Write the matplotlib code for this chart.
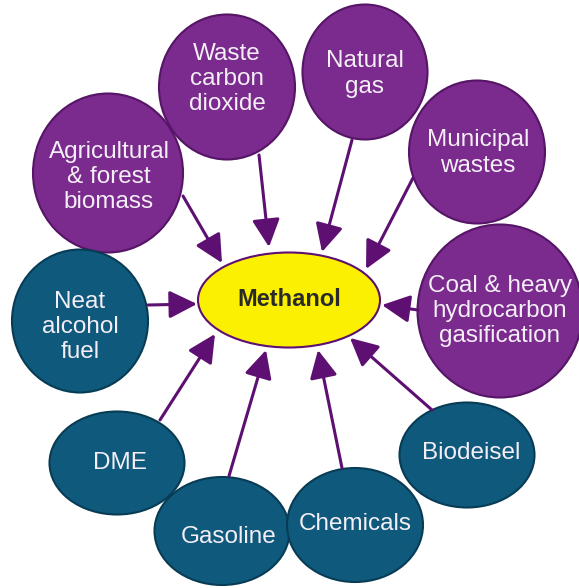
import matplotlib
matplotlib.use("Agg")
import matplotlib.pyplot as plt
from matplotlib.patches import Ellipse, FancyArrowPatch

# ---- data ----
labels = ["Waste\ncarbon\ndioxide", "Natural\ngas", "Agricultural\n& forest\nbiomass",
          "Municipal\nwastes", "Coal & heavy\nhydrocarbon\ngasification",
          "Neat\nalcohol\nfuel", "DME", "Gasoline", "Chemicals", "Biodeisel"]
kinds = ["source", "source", "source", "source", "source",
         "use", "use", "use", "use", "use"]
node_x = [227, 365, 108, 477, 500, 80, 117, 222, 355, 467]
node_y = [87, 72, 173, 152, 311, 321, 463, 531, 525, 455]
node_w = [136, 125, 150, 136, 165, 136, 135, 135, 136, 135]
node_h = [145, 135, 159, 143, 173, 143, 103, 108, 114, 105]
label_x = [227, 365, 109, 478, 500, 80, 120, 229, 355, 471]
label_y = [79, 74, 177, 153, 311, 327, 463, 537, 524, 453]

arrow_x0 = [259, 352, 183, 413, 418, 148, 160, 229, 342, 432]
arrow_y0 = [155, 140, 196, 178, 310, 305, 420, 476, 468, 410]
arrow_x1 = [269, 322, 222, 366, 382, 197, 215, 266, 318, 350]
arrow_y1 = [247, 252, 263, 269, 305, 304, 334, 350, 350, 338]

center_label = "Methanol"
center_xy = (289, 300)
center_wh = (182, 95)

# ---- style ----
face = {"source": "#7b2a8d", "use": "#0f5a7c"}
edge = {"source": "#561566", "use": "#083c55"}
arrow_col = "#5e0f72"

W, H = 579, 588
fig = plt.figure(figsize=(W / 100, H / 100), dpi=100)
ax = fig.add_axes([0, 0, 1, 1])
ax.set_xlim(0, W)
ax.set_ylim(H, 0)
ax.axis("off")

font = "Liberation Sans"

for lab, k, x, y, w, h, tx, ty in zip(labels, kinds, node_x, node_y, node_w, node_h,
                                      label_x, label_y):
    ax.add_patch(Ellipse((x, y), w, h, facecolor=face[k], edgecolor=edge[k], lw=1.5, zorder=2))
    ax.text(tx, ty, lab, ha="center", va="center", color="#f4eef6", fontsize=17.5,
            family=font, linespacing=1.2, zorder=3)

ax.add_patch(Ellipse(center_xy, center_wh[0], center_wh[1], facecolor="#fbf000",
                     edgecolor="#5e0f72", lw=1.5, zorder=2))
ax.text(center_xy[0], center_xy[1] - 1, center_label, ha="center", va="center",
        color="#2a2a2a", fontsize=17, fontweight="bold", family=font, zorder=3)

for x0, y0, x1, y1 in zip(arrow_x0, arrow_y0, arrow_x1, arrow_y1):
    ax.add_patch(FancyArrowPatch((x0, y0), (x1, y1),
                                 arrowstyle="-|>,head_length=1.7,head_width=0.85",
                                 mutation_scale=10, color=arrow_col, lw=2.2,
                                 shrinkA=0, shrinkB=0, zorder=4))

fig.savefig("out.png", dpi=100, facecolor="white")
